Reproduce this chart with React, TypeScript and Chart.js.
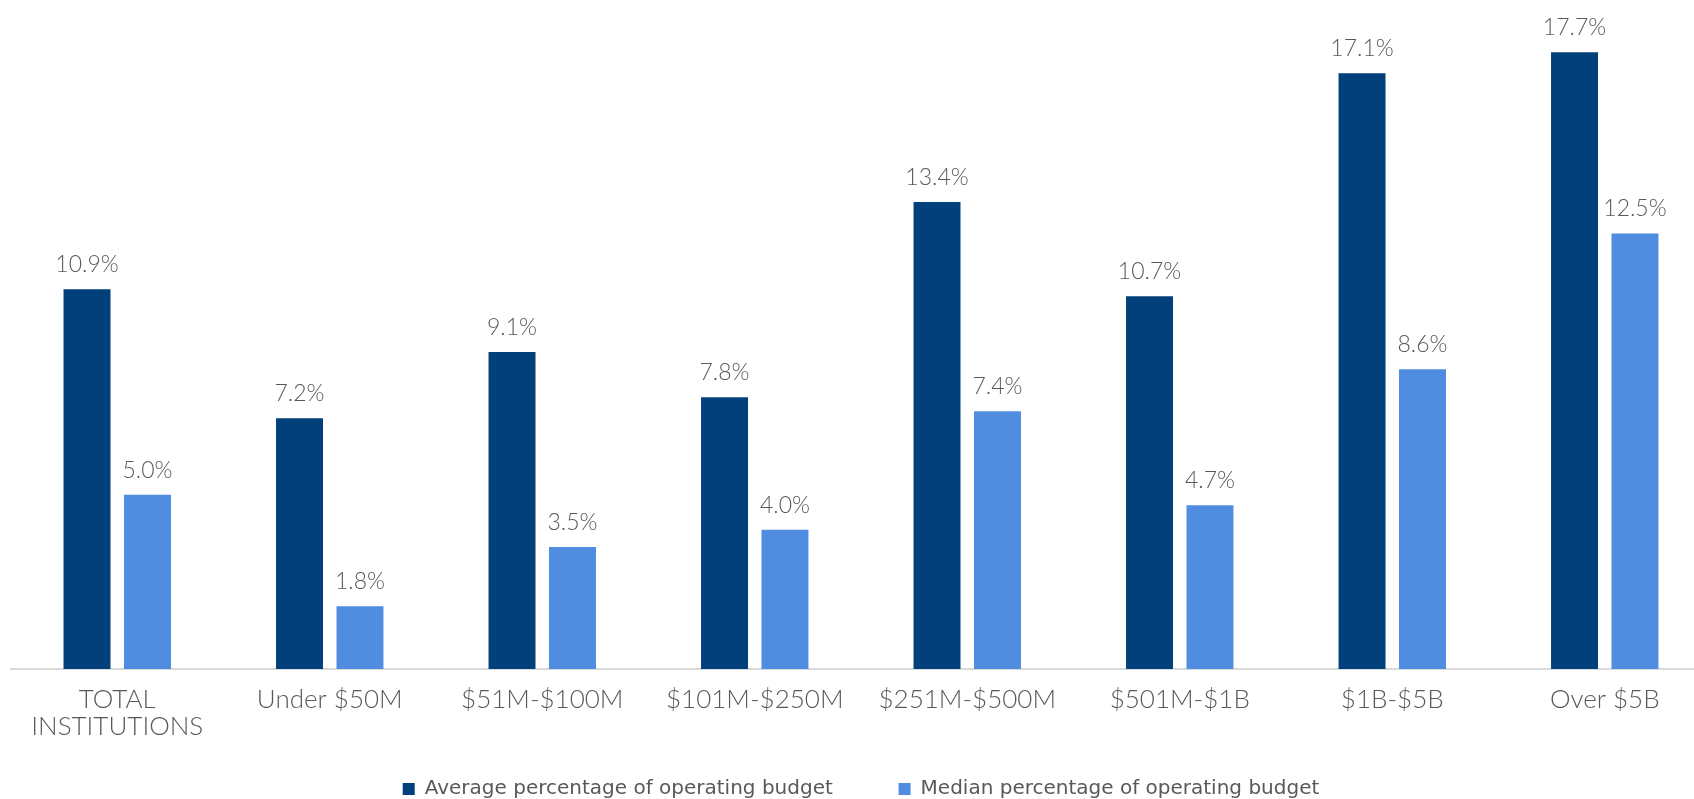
import React, { useEffect, useRef } from "react";
import { Chart, registerables } from "chart.js";

Chart.register(...registerables);

const categories: (string | string[])[] = [
  ["TOTAL", "INSTITUTIONS"],
  "Under $50M",
  "$51M-$100M",
  "$101M-$250M",
  "$251M-$500M",
  "$501M-$1B",
  "$1B-$5B",
  "Over $5B",
];
const averageValues = [10.9, 7.2, 9.1, 7.8, 13.4, 10.7, 17.1, 17.7];
const medianValues = [5.0, 1.8, 3.5, 4.0, 7.4, 4.7, 8.6, 12.5];
const seriesNames = [
  "Average percentage of operating budget",
  "Median percentage of operating budget",
];

const DARK = "#01407A";
const LIGHT = "#508DE0";
const TEXT = "#595959";

const valueLabels = {
  id: "valueLabels",
  afterDatasetsDraw(chart: any) {
    const ctx = chart.ctx;
    ctx.save();
    ctx.font = "300 23px Lato";
    ctx.fillStyle = TEXT;
    ctx.textAlign = "center";
    ctx.textBaseline = "alphabetic";
    chart.data.datasets.forEach((ds: any, di: number) => {
      const meta = chart.getDatasetMeta(di);
      meta.data.forEach((el: any, i: number) => {
        const v = ds.data[i] as number;
        ctx.fillText(v.toFixed(1) + "%", el.x, el.y - 17);
      });
    });
    ctx.restore();
  },
};

export default function App() {
  const ref = useRef<HTMLCanvasElement>(null);

  useEffect(() => {
    if (!ref.current) return;
    const chart = new Chart(ref.current, {
      type: "bar",
      data: {
        labels: categories,
        datasets: [
          {
            label: seriesNames[0],
            data: averageValues,
            backgroundColor: DARK,
            categoryPercentage: 0.569,
            barPercentage: 0.777,
          },
          {
            label: seriesNames[1],
            data: medianValues,
            backgroundColor: LIGHT,
            categoryPercentage: 0.569,
            barPercentage: 0.777,
          },
        ],
      },
      options: {
        responsive: false,
        devicePixelRatio: 1,
        animation: false,
        layout: { padding: { left: 11, right: 9, top: 7, bottom: 0 } },
        scales: {
          x: {
            offset: true,
            grid: { display: false, drawTicks: false },
            border: { display: true, color: "#D9D9D9", width: 2 },
            ticks: {
              autoSkip: false,
              maxRotation: 0,
              minRotation: 0,
              padding: 17,
              color: TEXT,
              font: { family: "Lato", size: 26, weight: 300 as any, lineHeight: 1.04 },
            },
            afterFit: (scale: any) => {
              scale.height = 76;
            },
          },
          y: {
            display: false,
            min: 0,
            max: 19,
          },
        },
        plugins: {
          tooltip: { enabled: false },
          legend: {
            position: "bottom",
            labels: {
              boxWidth: 12,
              boxHeight: 12,
              padding: 34,
              color: TEXT,
              font: { family: "DejaVu Sans", size: 20 },
              generateLabels: (c: any) => {
                const items = Chart.defaults.plugins.legend.labels.generateLabels(c);
                if (items[0]) items[0].text = items[0].text + "\u00a0\u00a0\u00a0\u00a0\u00a0";
                return items;
              },
            },
          },
        },
      },
      plugins: [valueLabels],
    });
    return () => chart.destroy();
  }, []);

  return (
    <div
      style={{
        position: "fixed",
        left: 0,
        top: 0,
        width: 1694,
        height: 799,
        overflow: "hidden",
        background: "#ffffff",
      }}
    >
      <canvas
        ref={ref}
        width={1720}
        height={809}
        style={{ position: "absolute", left: 0, top: 0, width: 1720, height: 809 }}
      />
    </div>
  );
}
